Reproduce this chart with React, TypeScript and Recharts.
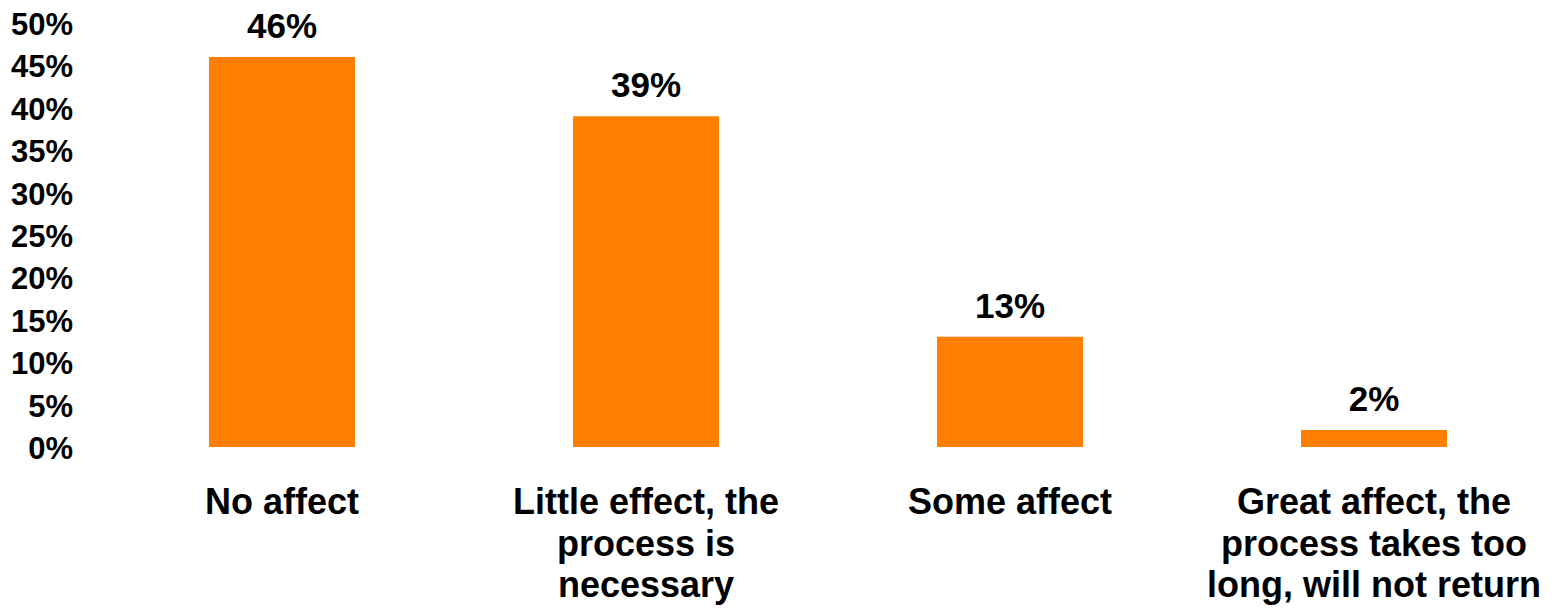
import React from "react";
import { BarChart, Bar, XAxis, YAxis, LabelList } from "recharts";

const categories: string[] = [
  "No affect",
  "Little effect, the\nprocess is\nnecessary",
  "Some affect",
  "Great affect, the\nprocess takes too\nlong, will not return",
];
const values: number[] = [46, 39, 13, 2];
const yTicks: number[] = [0, 5, 10, 15, 20, 25, 30, 35, 40, 45, 50];

const data = categories.map((c, i) => ({ name: c, value: values[i] }));

const FONT = "'Liberation Sans', Arial, sans-serif";

const CategoryTick = (props: any) => {
  const { x, y, payload } = props;
  const lines = String(payload.value).split("\n");
  return (
    <text
      x={x}
      y={y}
      textAnchor="middle"
      fontFamily={FONT}
      fontWeight="bold"
      fontSize={36}
      fill="#000"
    >
      {lines.map((l, i) => (
        <tspan key={i} x={x} dy={i === 0 ? 59 : 41.5}>
          {l}
        </tspan>
      ))}
    </text>
  );
};

const ValueTick = (props: any) => {
  const { x, y, payload } = props;
  return (
    <text
      x={x}
      y={y}
      dx={-19}
      dy={12}
      textAnchor="end"
      fontFamily={FONT}
      fontWeight="bold"
      fontSize={31}
      fill="#000"
    >
      {`${payload.value}%`}
    </text>
  );
};

const ValueLabel = (props: any) => {
  const { x, y, width, value } = props;
  return (
    <text
      x={x + width / 2}
      y={y - 19}
      textAnchor="middle"
      fontFamily={FONT}
      fontWeight="bold"
      fontSize={35}
      fill="#000"
    >
      {`${value}%`}
    </text>
  );
};

export default function App() {
  return (
    <div
      style={{
        position: "absolute",
        left: 0,
        top: 0,
        width: 1554,
        height: 613,
        overflow: "hidden",
        background: "#fff",
      }}
    >
      <BarChart
        width={1560}
        height={613}
        data={data}
        margin={{ top: 23, right: 4, bottom: 0, left: 0 }}
      >
        <XAxis
          dataKey="name"
          axisLine={false}
          tickLine={false}
          height={166}
          interval={0}
          tick={<CategoryTick />}
        />
        <YAxis
          width={100}
          domain={[0, 50]}
          ticks={yTicks}
          axisLine={false}
          tickLine={false}
          interval={0}
          tick={<ValueTick />}
        />
        <Bar dataKey="value" fill="#FF7F00" barSize={146} isAnimationActive={false}>
          <LabelList dataKey="value" content={<ValueLabel />} />
        </Bar>
      </BarChart>
    </div>
  );
}
